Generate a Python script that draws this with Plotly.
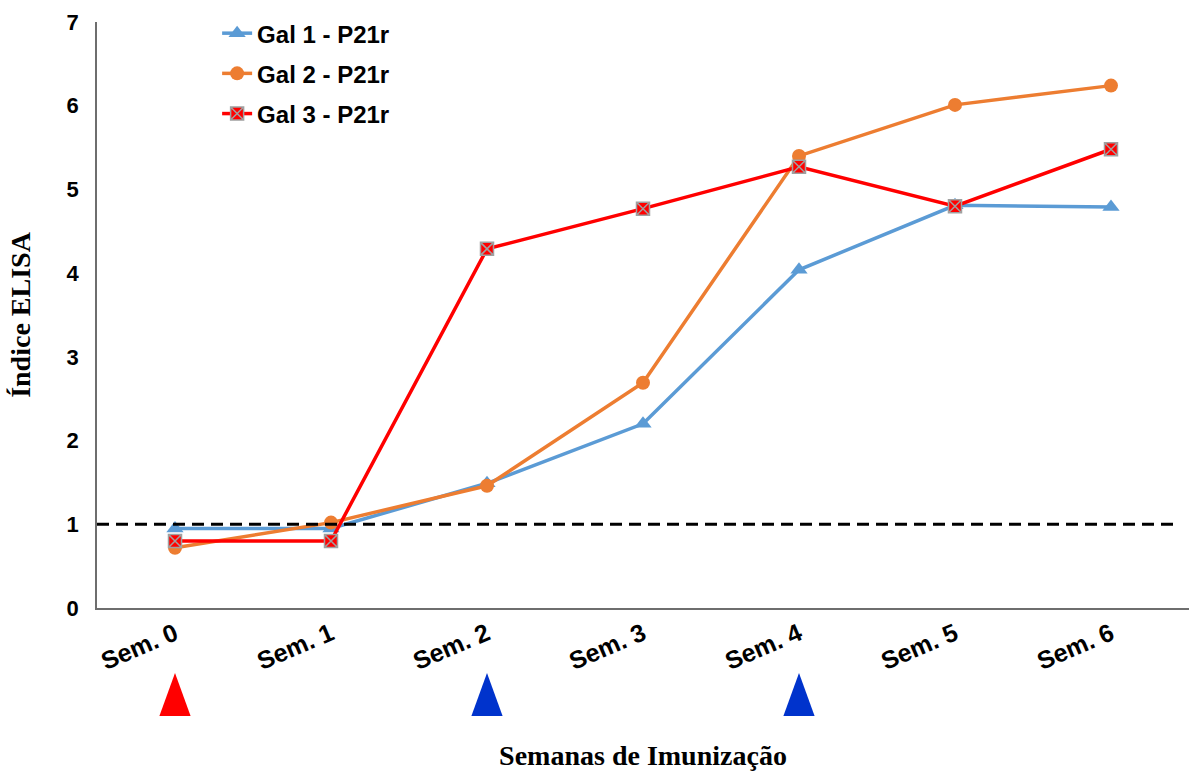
import plotly.graph_objects as go

weeks = ["Sem. 0", "Sem. 1", "Sem. 2", "Sem. 3", "Sem. 4", "Sem. 5", "Sem. 6"]
gal1 = [0.95, 0.95, 1.49, 2.20, 4.04, 4.81, 4.79]
gal2 = [0.72, 1.02, 1.46, 2.69, 5.40, 6.01, 6.24]
gal3 = [0.80, 0.80, 4.29, 4.77, 5.27, 4.80, 5.48]
cutoff = 1.0
immun_weeks = ["Sem. 0", "Sem. 2", "Sem. 4"]
immun_colors = ["#FF0000", "#0033CC", "#0033CC"]

H = 771
top, bottom = 22, 20
plot_h = H - top - bottom
main_bottom = (H - bottom - 608) / plot_h
tri_lo = (H - bottom - 716) / plot_h
tri_hi = (H - bottom - 673) / plot_h
half_w = 0.1

fig = go.Figure()
fig.add_trace(go.Scatter(x=weeks, y=gal1, mode="lines+markers", name="Gal 1 - P21r",
                         legendgroup="g1",
                         line=dict(color="#5B9BD5", width=3.5),
                         marker=dict(symbol="triangle-up", size=15, color="#5B9BD5")))
fig.add_trace(go.Scatter(x=weeks, y=gal2, mode="lines+markers", name="Gal 2 - P21r",
                         legendgroup="g2",
                         line=dict(color="#ED7D31", width=3.5),
                         marker=dict(symbol="circle", size=14, color="#ED7D31")))
fig.add_trace(go.Scatter(x=weeks, y=gal3, mode="lines+markers", name="Gal 3 - P21r",
                         legendgroup="g3",
                         line=dict(color="#FF0000", width=3.5),
                         marker=dict(symbol="square-x", size=13, color="#FF0000",
                                     line=dict(color="#A0A0A0", width=1.5))))

for w, c in zip(immun_weeks, immun_colors):
    i = weeks.index(w)
    fig.add_trace(go.Scatter(x=[i - half_w, i, i + half_w, i - half_w], y=[0, 1, 0, 0],
                             mode="lines", fill="toself", fillcolor=c,
                             line=dict(color=c, width=0),
                             xaxis="x2", yaxis="y2", showlegend=False, hoverinfo="skip"))

fig.add_shape(type="line", xref="paper", yref="y", x0=0, x1=0.99, y0=cutoff, y1=cutoff,
              line=dict(color="black", width=3, dash="12px,7px"))

ytickfont = dict(family="Liberation Sans", size=22, color="black", weight="bold")
xtickfont = dict(family="Liberation Sans", size=25, color="black", weight="bold")
titlefont = dict(family="Liberation Serif", size=28, color="black", weight="bold")

fig.update_layout(
    width=1189, height=H,
    margin=dict(l=97, r=0, t=top, b=bottom, autoexpand=False),
    plot_bgcolor="white", paper_bgcolor="white",
    legend=dict(x=0.11, y=1.015, xanchor="left", yanchor="top",
                font=dict(family="Liberation Sans", size=24, color="black", weight="bold"),
                bgcolor="rgba(0,0,0,0)", tracegroupgap=6, itemwidth=30),
    xaxis=dict(type="category", categoryorder="array", categoryarray=weeks,
               range=[-0.5, 6.5], showline=True, linecolor="#6E6E6E", linewidth=1.5,
               showgrid=False, ticks="", tickangle=-23, tickfont=xtickfont, automargin=False,
               title=dict(text="Semanas de Imunização", standoff=88, font=titlefont)),
    yaxis=dict(domain=[main_bottom, 1], range=[0, 7], dtick=1, showline=True,
               linecolor="#6E6E6E", linewidth=1.5, automargin=False,
               showgrid=False, zeroline=False, ticks="", ticklabelstandoff=12,
               tickfont=ytickfont,
               title=dict(text="Índice ELISA", standoff=28, font=titlefont)),
    xaxis2=dict(range=[-0.5, 6.5], anchor="y2", visible=False),
    yaxis2=dict(domain=[tri_lo, tri_hi], range=[0, 1], anchor="x2", visible=False),
)

fig.write_html("out.html")
